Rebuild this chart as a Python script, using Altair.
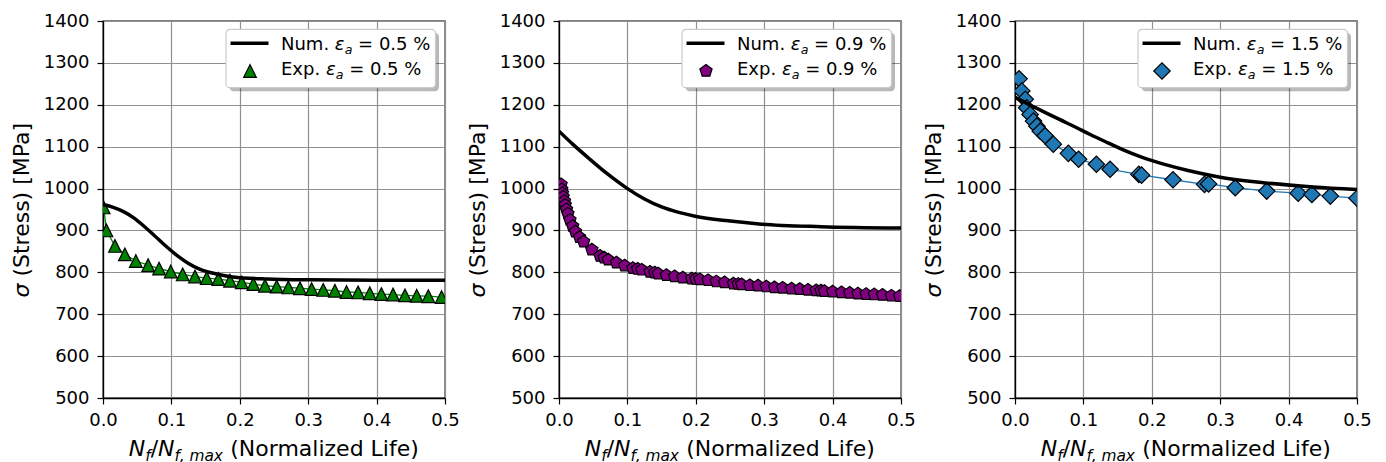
import altair as alt
import pandas as pd

# ---------------- data ----------------
strain_amp = ["0.5", "0.9", "1.5"]

# Panel 1 : strain amplitude 0.5 %
num1_x = [0.0, 0.015, 0.03, 0.045, 0.06, 0.075, 0.093, 0.11, 0.125, 0.142, 0.166, 0.19, 0.24, 0.30, 0.40, 0.50]
num1_y = [962, 955, 945, 930, 910, 888, 861, 838, 821, 807, 796, 789, 784, 782, 781, 781]
exp1_x = [0.001, 0.005, 0.0175, 0.032, 0.048, 0.066, 0.082, 0.099, 0.1165, 0.1345, 0.1516,
          0.1686, 0.1857, 0.2028, 0.2198, 0.2368, 0.2539, 0.271, 0.288, 0.305, 0.322, 0.339,
          0.356, 0.373, 0.390, 0.407, 0.424, 0.4415, 0.4586, 0.4756, 0.495]
exp1_y = [955, 900, 863, 843, 827, 817, 809, 802, 795, 790, 786, 784, 780, 776, 772, 768,
          766, 764, 762, 760, 758, 756, 753, 752, 750, 748, 747, 745, 744, 743, 741]

# Panel 2 : strain amplitude 0.9 %
num2_x = [0.0, 0.02, 0.043, 0.07, 0.099, 0.125, 0.15, 0.175, 0.199, 0.247, 0.296, 0.383, 0.5]
num2_y = [1137, 1106, 1073, 1036, 1001, 975, 956, 943, 934, 923, 915, 909, 906]
exp2_x = [0.003, 0.004, 0.005, 0.006, 0.008, 0.009, 0.011, 0.013, 0.016, 0.020, 0.024, 0.030,
          0.036, 0.048, 0.060, 0.066, 0.072, 0.084, 0.096, 0.108, 0.115, 0.121, 0.133, 0.140,
          0.145, 0.157, 0.169, 0.181, 0.194, 0.200, 0.206, 0.218, 0.230, 0.242, 0.255, 0.262,
          0.267, 0.279, 0.291, 0.303, 0.315, 0.327, 0.340, 0.352, 0.364, 0.376, 0.383, 0.388,
          0.400, 0.413, 0.425, 0.437, 0.449, 0.461, 0.473, 0.486, 0.498]
exp2_y = [1010, 998, 989, 980, 970, 961, 950, 940, 925, 910, 897, 884, 873, 854, 839, 835,
          830, 823, 816, 810, 808, 806, 801, 799, 797, 793, 790, 787, 785, 784, 783, 781,
          778, 776, 773, 772, 771, 769, 768, 766, 764, 763, 761, 760, 758, 757, 756, 755,
          754, 752, 751, 749, 748, 747, 746, 744, 743]

# Panel 3 : strain amplitude 1.5 %
num3_x = [0.0, 0.02, 0.04, 0.065, 0.088, 0.11, 0.136, 0.16, 0.185, 0.22, 0.253, 0.3, 0.363, 0.436, 0.5]
num3_y = [1218, 1201, 1185, 1165, 1147, 1129, 1109, 1091, 1075, 1057, 1043, 1027, 1014, 1004, 998]
exp3_x = [0.006, 0.010, 0.015, 0.017, 0.022, 0.027, 0.032, 0.037, 0.044, 0.056, 0.078, 0.093,
          0.119, 0.139, 0.181, 0.185, 0.231, 0.277, 0.283, 0.322, 0.368, 0.414, 0.434, 0.461, 0.500]
exp3_y = [1262, 1233, 1213, 1193, 1177, 1161, 1149, 1137, 1126, 1106, 1084, 1070, 1058, 1046,
          1034, 1032, 1021, 1010, 1011, 1002, 994, 989, 986, 982, 977]

X_TICKS = [0.0, 0.1, 0.2, 0.3, 0.4, 0.5]
Y_TICKS = [500, 600, 700, 800, 900, 1000, 1100, 1200, 1300, 1400]

# ---------------- styling ----------------
FONT = "DejaVu Sans"
W, H = 342, 377
TITLE_FS = 22
LEG_FS = 18

# DejaVu Sans advance widths (em) used to lay out mixed italic / subscript text
ADV = {" ": .318, "%": .950, "(": .390, ")": .390, ",": .318, ".": .318, "/": .337,
       "=": .838, "E": .632, "L": .557, "M": .863, "N": .748, "P": .603, "S": .635,
       "[": .390, "]": .390, "a": .613, "d": .635, "e": .615, "f": .352, "i": .278,
       "l": .278, "m": .974, "o": .612, "p": .635, "r": .411, "s": .521, "t": .392,
       "u": .634, "x": .592, "z": .525, "ε": .543, "σ": .635}
for d in "0123456789":
    ADV[d] = .636


def tw(s, size):
    return sum(ADV.get(c, 0.6) for c in s) * size


ONE = pd.DataFrame({"k": [0]})


def text_layer(txt, x, y, size, italic=False, angle=0):
    return alt.Chart(ONE).mark_text(
        text=txt, font=FONT, fontSize=size,
        fontStyle="italic" if italic else "normal",
        align="left", baseline="alphabetic", color="black", angle=angle,
    ).encode(x=alt.value(x), y=alt.value(y))


def run_h(segs, x0, y0):
    out, x = [], x0
    for txt, size, italic, dy in segs:
        lead = len(txt) - len(txt.lstrip(" "))
        out.append(text_layer(txt.strip(), x + lead * ADV[" "] * size, y0 + dy, size, italic))
        x += tw(txt, size)
    return out


def run_v(segs, x0, y0):
    out, y = [], y0
    for txt, size, italic, dx in segs:
        lead = len(txt) - len(txt.lstrip(" "))
        out.append(text_layer(txt.strip(), x0 + dx, y - lead * ADV[" "] * size, size, italic, angle=270))
        y -= tw(txt, size)
    return out


TRI = "M0,-1L-1,1L1,1Z"
PENT = "M0,-1L0.951,-0.309L0.588,0.809L-0.588,0.809L-0.951,-0.309Z"


def panel(num_x, num_y, exp_x, exp_y, color, shape, msize, amp):
    num_df = pd.DataFrame({"x": num_x, "y": num_y})
    exp_df = pd.DataFrame({"x": exp_x, "y": exp_y})
    xs = alt.X("x:Q", scale=alt.Scale(domain=[0, 0.5], nice=False, zero=False),
               axis=alt.Axis(values=X_TICKS, format=".1f", title=None))
    ys = alt.Y("y:Q", scale=alt.Scale(domain=[500, 1400], nice=False, zero=False),
               axis=alt.Axis(values=Y_TICKS, format="d", title=None))

    exp_line = alt.Chart(exp_df).mark_line(color=color, strokeWidth=1.3, clip=True).encode(xs, ys)
    exp_pts = alt.Chart(exp_df).mark_point(
        shape=shape, size=msize, filled=True, fill=color, stroke="black",
        strokeWidth=1.2, opacity=1, fillOpacity=1, strokeOpacity=1, clip=True,
    ).encode(xs, ys)
    num_line = alt.Chart(num_df).mark_line(
        color="black", strokeWidth=3.5, interpolate="monotone", clip=True
    ).encode(xs, ys)

    # legend (drawn inside the plot, upper right)
    bx0, bx1, by0, by1 = 123, 332.5, 8.3, 66.7
    shadow = alt.Chart(ONE).mark_rect(cornerRadius=4, fill="black", opacity=0.28).encode(
        x=alt.value(bx0 + 3.5), x2=alt.value(bx1 + 3.5), y=alt.value(by0 + 3.5), y2=alt.value(by1 + 3.5))
    box = alt.Chart(ONE).mark_rect(cornerRadius=4, fill="white", stroke="#cccccc", strokeWidth=1.2).encode(
        x=alt.value(bx0), x2=alt.value(bx1), y=alt.value(by0), y2=alt.value(by1))
    leg_line = alt.Chart(ONE).mark_rule(color="black", strokeWidth=3.5).encode(
        x=alt.value(127.5), x2=alt.value(165.5), y=alt.value(22.3))
    leg_pt = alt.Chart(ONE).mark_point(
        shape=shape, size=msize, filled=True, fill=color, stroke="black",
        strokeWidth=1.2, opacity=1, fillOpacity=1, strokeOpacity=1,
    ).encode(x=alt.value(147), y=alt.value(50))
    sub = 0.7 * LEG_FS
    row1 = run_h([("Num. ", LEG_FS, False, 0), ("ε", LEG_FS, True, 0), ("a", sub, True, 3.5),
                  (f" = {amp} %", LEG_FS, False, 0)], 178, 29.3)
    row2 = run_h([("Exp. ", LEG_FS, False, 0), ("ε", LEG_FS, True, 0), ("a", sub, True, 3.5),
                  (f" = {amp} %", LEG_FS, False, 0)], 178, 54.3)

    # axis titles with italic symbols and subscripts
    tsub = 0.7 * TITLE_FS
    xsegs = [("N", TITLE_FS, True, 0), ("f", tsub, True, 4.5), ("/", TITLE_FS, False, 0),
             ("N", TITLE_FS, True, 0), ("f, max", tsub, True, 4.5),
             (" (Normalized Life)", TITLE_FS, False, 0)]
    xtot = sum(tw(s[0], s[1]) for s in xsegs)
    xtitle = run_h(xsegs, W / 2 - xtot / 2, H + 58)
    ysegs = [("σ", TITLE_FS, True, 0), (" (Stress) [MPa]", TITLE_FS, False, 0)]
    ytot = sum(tw(s[0], s[1]) for s in ysegs)
    ytitle = run_v(ysegs, -74, H / 2 + ytot / 2)

    return alt.layer(exp_line, exp_pts, num_line, shadow, box, leg_line, leg_pt,
                     *row1, *row2, *xtitle, *ytitle).properties(width=W, height=H)


p1 = panel(num1_x, num1_y, exp1_x, exp1_y, "#008000", TRI, 160, strain_amp[0])
p2 = panel(num2_x, num2_y, exp2_x, exp2_y, "#800080", PENT, 165, strain_amp[1])
p3 = panel(num3_x, num3_y, exp3_x, exp3_y, "#1f77b4", "diamond", 270, strain_amp[2])

chart = alt.hconcat(p1, p2, p3, spacing=114, bounds="flush").properties(
    padding={"left": 2, "top": 3, "right": 0, "bottom": 0}
).configure_axis(
    labelFont=FONT, labelFontSize=18, labelColor="black",
    tickColor="black", tickWidth=1.2, tickSize=6,
    domainColor="black", domainWidth=1.3,
    grid=True, gridColor="#909090", gridWidth=1.2, gridOpacity=1,
    labelFlush=False, labelOverlap=False,
).configure_axisX(labelPadding=7).configure_axisY(labelPadding=8).configure_view(
    stroke="black", strokeWidth=1.3
)

chart.save("out.html", embed_options={"renderer": "svg", "actions": False})
